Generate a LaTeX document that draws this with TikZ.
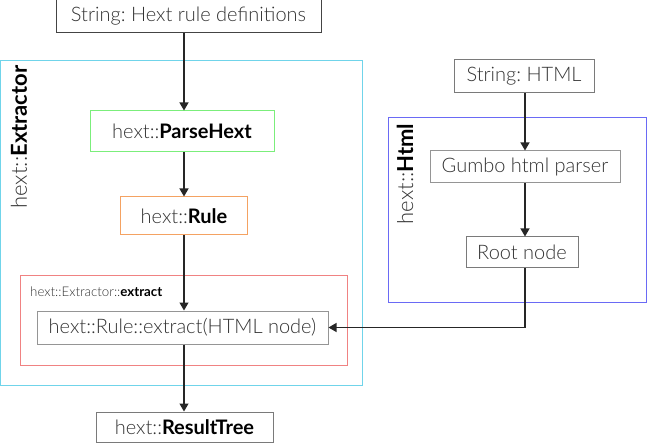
\documentclass[tikz,border=0pt]{standalone}
\usepackage{fontspec}
\setmainfont{Lato}[UprightFont=* Light, BoldFont=* Bold]
\usetikzlibrary{arrows.meta}
\usetikzlibrary{shapes}

\definecolor{textGray}{HTML}{333333}
\definecolor{boxGray}{HTML}{7A7A7A}
\definecolor{darkBoxGray}{HTML}{444444}
\definecolor{extractorCyan}{HTML}{70D4EA}
\definecolor{parseGreen}{HTML}{7BEE7B}
\definecolor{ruleOrange}{HTML}{F4A262}
\definecolor{extractRed}{HTML}{F08282}
\definecolor{htmlBlue}{HTML}{6A6AF5}

\begin{document}
\frenchspacing
\begin{tikzpicture}[x = 1pt, y = -1pt]
	\tikzstyle{boxStyle} = [shape = rectangle, draw = boxGray, line width = 1pt, inner sep = 0pt, text = textGray, font = \fontsize{20}{24}\selectfont]
	\tikzstyle{clusterStyle} = [shape = rectangle, line width = 1pt, inner sep = 0pt]
	\tikzstyle{clusterLabelStyle} = [rotate = 90, inner sep = 0pt, text = textGray, font = \fontsize{22}{26}\selectfont]
	\tikzstyle{EdgeStyle} = [line width = 1.2pt, draw = black!85, -{Triangle[length = 8pt, width = 9pt]}]
	\useasboundingbox (0,0) rectangle (647,443);
	% clusters
	\node[clusterStyle, draw = extractorCyan, minimum width = 362pt, minimum height = 324pt] (extractor) at (181.5,223) {};
	\node[clusterStyle, draw = extractRed, minimum width = 327pt, minimum height = 89pt] (extractfn) at (183.5,320.5) {};
	\node[clusterStyle, draw = htmlBlue, minimum width = 258pt, minimum height = 184pt] (htmlns) at (517,210) {};
	\node[clusterLabelStyle] (extractorLabel) at (19,137) {hext::\textbf{\color{black}Extractor}};
	\node[clusterLabelStyle] (htmlLabel) at (405,174) {hext::\textbf{\color{black}Html}};
	\node[anchor = west, inner sep = 0pt, text = textGray, font = \fontsize{13.3}{16}\selectfont] (extractfnLabel) at (30,292) {hext::Extractor::\textbf{\color{black}extract}};
	% boxes
	\node[boxStyle, draw = darkBoxGray, minimum width = 265pt, minimum height = 33pt] (defs) at (188.5,16.5) {String: Hext rule definitions};
	\node[boxStyle, draw = parseGreen, minimum width = 184pt, minimum height = 41pt] (parse) at (182,131.5) {hext::\textbf{\color{black}ParseHext}};
	\node[boxStyle, draw = ruleOrange, minimum width = 127pt, minimum height = 38pt] (rule) at (184,216) {hext::\textbf{\color{black}Rule}};
	\node[boxStyle, draw = boxGray!80, minimum width = 291pt, minimum height = 33pt] (extract) at (182.5,327.5) {hext::Rule::extract(HTML node)};
	\node[boxStyle, draw = boxGray, minimum width = 177pt, minimum height = 30pt] (result) at (184.5,427) {hext::\textbf{\color{black}ResultTree}};
	\node[boxStyle, minimum width = 140pt, minimum height = 33pt] (html) at (524,76.5) {String: HTML};
	\node[boxStyle, draw = boxGray!80, minimum width = 190pt, minimum height = 32pt] (gumbo) at (525,167) {Gumbo html parser};
	\node[boxStyle, minimum width = 112pt, minimum height = 31pt] (root) at (522,252.5) {Root node};
	% edges
	\draw[EdgeStyle] (defs.south -| rule.north) -- (parse.north -| rule.north);
	\draw[EdgeStyle] (parse.south -| rule.north) -- (rule.north);
	\draw[EdgeStyle] (rule.south) -- (extract.north -| rule.south);
	\draw[EdgeStyle] (extract.south -| rule.south) -- (result.north -| rule.south);
	\draw[EdgeStyle] (html.south -| gumbo.north) -- (gumbo.north);
	\draw[EdgeStyle] (gumbo.south) -- (root.north -| gumbo.south);
	\draw[EdgeStyle] (root.south -| gumbo.south) |- (extract.east);
\end{tikzpicture}
\end{document}
